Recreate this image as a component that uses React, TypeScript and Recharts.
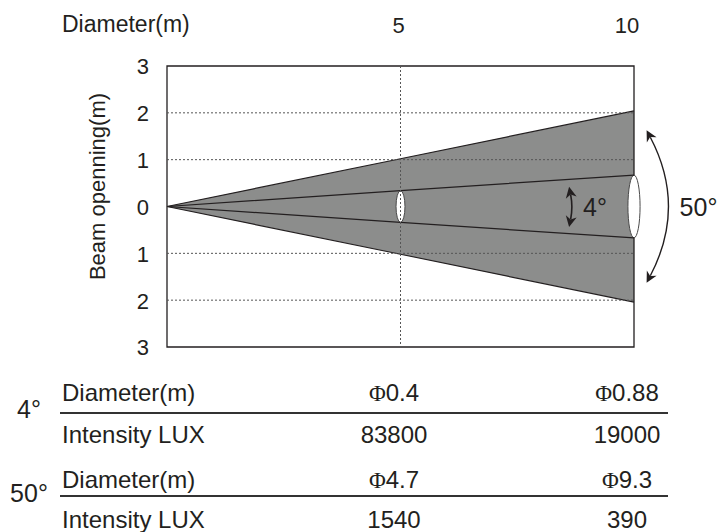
import {
  ComposedChart,
  Area,
  Line,
  XAxis,
  YAxis,
  ReferenceLine,
  ReferenceArea,
  Label,
} from "recharts";

// distance from the fixture (m) and half beam opening (m)
const distances = [0, 5, 10];
const outerHalf = [0, 1.02, 2.04];
const innerHalf = [0, 0.34, 0.67];

const xTicks = [5, 10];
const yTicks = [-3, -2, -1, 0, 1, 2, 3];
const gridY = [-2, -1, 1, 2];
const gridX = [5];

// spot ellipses: distance, half height (m), half width (m)
const spotX = [5, 10];
const spotHalfH = [0.34, 0.67];
const spotHalfW = [0.096, 0.13];

const beamAngles = ["4°", "50°"];

// photometric table
const rowLabels = ["Diameter(m)", "Intensity LUX"];
const diameter4 = ["0.4", "0.88"];
const lux4 = ["83800", "19000"];
const diameter50 = ["4.7", "9.3"];
const lux50 = ["1540", "390"];

const data = distances.map((d, i) => ({
  d,
  outer: [-outerHalf[i], outerHalf[i]],
  innerTop: innerHalf[i],
  innerBottom: -innerHalf[i],
}));

const INK = "#231f20";
const FONT = '"Liberation Sans", Arial, sans-serif';
const SERIF = '"Liberation Serif", "DejaVu Serif", serif';

const XTick = (props: any) => {
  const { x, y, payload, index } = props;
  // the last label sits a little left of its gridline in the original
  const shift = index === xTicks.length - 1 ? -7 : -2;
  return (
    <text x={x + shift} y={y} dy={-25} textAnchor="middle" fill={INK} fontSize={22} fontFamily={FONT}>
      {payload.value}
    </text>
  );
};

const YTick = (props: any) => {
  const { x, y, payload } = props;
  return (
    <text x={x - 10} y={y} dy="0.38em" textAnchor="end" fill={INK} fontSize={22} fontFamily={FONT}>
      {Math.abs(payload.value)}
    </text>
  );
};

const arrowHead = (tx: number, ty: number, ux: number, uy: number, len = 11, w = 5.5) => {
  const bx = tx - ux * len;
  const by = ty - uy * len;
  const nx = -uy;
  const ny = ux;
  const mx = tx - ux * len * 0.7;
  const my = ty - uy * len * 0.7;
  return `M${tx},${ty} L${bx + nx * w},${by + ny * w} L${mx},${my} L${bx - nx * w},${by - ny * w} Z`;
};

const norm = (x: number, y: number) => {
  const l = Math.hypot(x, y) || 1;
  return [x / l, y / l];
};

// double headed arrow, bent to the right by `bulge` px, with its angle label
const makeArrow = (bulge: number, labelDx: number, label: string, strokeW: number) => (p: any) => {
  const { x1, y1, x2, y2 } = p;
  const cx = (x1 + x2) / 2 + bulge * 2;
  const cy = (y1 + y2) / 2;
  const [u1x, u1y] = norm(x1 - cx, y1 - cy);
  const [u2x, u2y] = norm(x2 - cx, y2 - cy);
  return (
    <g>
      <path
        d={`M${x1 - u1x * 8},${y1 - u1y * 8} Q${cx},${cy} ${x2 - u2x * 8},${y2 - u2y * 8}`}
        stroke={INK}
        strokeWidth={strokeW}
        fill="none"
      />
      <path d={arrowHead(x1, y1, u1x, u1y)} fill={INK} />
      <path d={arrowHead(x2, y2, u2x, u2y)} fill={INK} />
      <text
        x={x1 + labelDx}
        y={(y1 + y2) / 2 + 9}
        fill={INK}
        fontSize={25}
        fontFamily={FONT}
      >
        {label}
      </text>
    </g>
  );
};

const Spot = (p: any) => (
  <ellipse
    cx={p.x + p.width / 2}
    cy={p.y + p.height / 2}
    rx={p.width / 2}
    ry={p.height / 2}
    fill="#ffffff"
    stroke="#4a4a4a"
    strokeWidth={1}
  />
);

const PhotometricTable = () => {
  const colX = [394, 627];
  const rowBase = [41, 83, 128, 168];
  const lineY = [53, 136];
  const rows = [diameter4, lux4, diameter50, lux50];
  return (
    <svg width={718} height={172} style={{ display: "block" }}>
      {lineY.map((y) => (
        <line key={y} x1={60} x2={668} y1={y} y2={y} stroke="#333" strokeWidth={2} />
      ))}
      {beamAngles.map((a, i) => (
        <text key={a} x={29} y={[58, 142][i]} textAnchor="middle" fill={INK} fontSize={25} fontFamily={FONT}>
          {a}
        </text>
      ))}
      {rows.map((vals, r) => (
        <g key={r}>
          <text x={62} y={rowBase[r]} fill={INK} fontSize={24} fontFamily={FONT}>
            {rowLabels[r % 2]}
          </text>
          {vals.map((v, c) => (
            <text key={c} x={colX[c]} y={rowBase[r]} textAnchor="middle" fill={INK} fontSize={24} fontFamily={FONT}>
              {r % 2 === 0 ? (
                <>
                  <tspan fontFamily={SERIF} fontSize={23}>Φ</tspan>
                  {v}
                </>
              ) : (
                v
              )}
            </text>
          ))}
        </g>
      ))}
    </svg>
  );
};

const App = () => {
  return (
    <div
      style={{
        position: "absolute",
        left: 0,
        top: 0,
        width: 718,
        height: 532,
        background: "#ffffff",
        fontFamily: FONT,
      }}
    >
      <ComposedChart
        width={718}
        height={360}
        data={data}
        margin={{ top: 26, right: 84, bottom: 13, left: 107 }}
      >
        <XAxis
          dataKey="d"
          type="number"
          orientation="top"
          domain={[0, 10]}
          ticks={xTicks}
          axisLine={false}
          tickLine={false}
          height={40}
          tick={<XTick />}
        >
          <Label
            content={(p: any) => (
              <text x={p.viewBox.x - 105} y={p.viewBox.y + 6} fill={INK} fontSize={23} fontFamily={FONT}>
                Diameter(m)
              </text>
            )}
          />
        </XAxis>
        <YAxis
          type="number"
          domain={[-3, 3]}
          ticks={yTicks}
          axisLine={false}
          tickLine={false}
          width={60}
          tick={<YTick />}
        >
          <Label
            content={(p: any) => {
              const cx = p.viewBox.x - 10;
              const cy = p.viewBox.y + p.viewBox.height / 2 - 20;
              return (
                <text
                  x={cx}
                  y={cy}
                  transform={`rotate(-90, ${cx}, ${cy})`}
                  textAnchor="middle"
                  dominantBaseline="central"
                  fill={INK}
                  fontSize={22}
                  fontFamily={FONT}
                >
                  Beam openning(m)
                </text>
              );
            }}
          />
        </YAxis>

        <Area
          dataKey="outer"
          type="linear"
          fill="#8c8d8c"
          fillOpacity={1}
          stroke={INK}
          strokeWidth={1.2}
          isAnimationActive={false}
        />
        <Line dataKey="innerTop" type="linear" stroke={INK} strokeWidth={1.2} dot={false} isAnimationActive={false} />
        <Line dataKey="innerBottom" type="linear" stroke={INK} strokeWidth={1.2} dot={false} isAnimationActive={false} />

        {gridY.map((v) => (
          <ReferenceLine key={`gy${v}`} y={v} stroke="#555" strokeWidth={1} strokeDasharray="2 2" />
        ))}
        {gridX.map((v) => (
          <ReferenceLine key={`gx${v}`} x={v} stroke="#555" strokeWidth={1} strokeDasharray="2 2" />
        ))}

        <ReferenceArea x1={0} x2={10} y1={-3} y2={3} fill="none" stroke={INK} strokeWidth={1.3} />

        {spotX.map((x, i) => (
          <ReferenceArea
            key={`spot${x}`}
            x1={x - spotHalfW[i]}
            x2={x + spotHalfW[i]}
            y1={-spotHalfH[i]}
            y2={spotHalfH[i]}
            ifOverflow="visible"
            shape={Spot}
          />
        ))}

        <ReferenceLine
          segment={[
            { x: 8.61, y: 0.42 },
            { x: 8.61, y: -0.44 },
          ]}
          ifOverflow="visible"
          shape={makeArrow(2, 14, beamAngles[0], 1.6)}
        />
        <ReferenceLine
          segment={[
            { x: 10.27, y: 1.63 },
            { x: 10.27, y: -1.63 },
          ]}
          ifOverflow="visible"
          shape={makeArrow(20, 33, beamAngles[1], 1.4)}
        />
      </ComposedChart>
      <PhotometricTable />
    </div>
  );
};

export default App;
